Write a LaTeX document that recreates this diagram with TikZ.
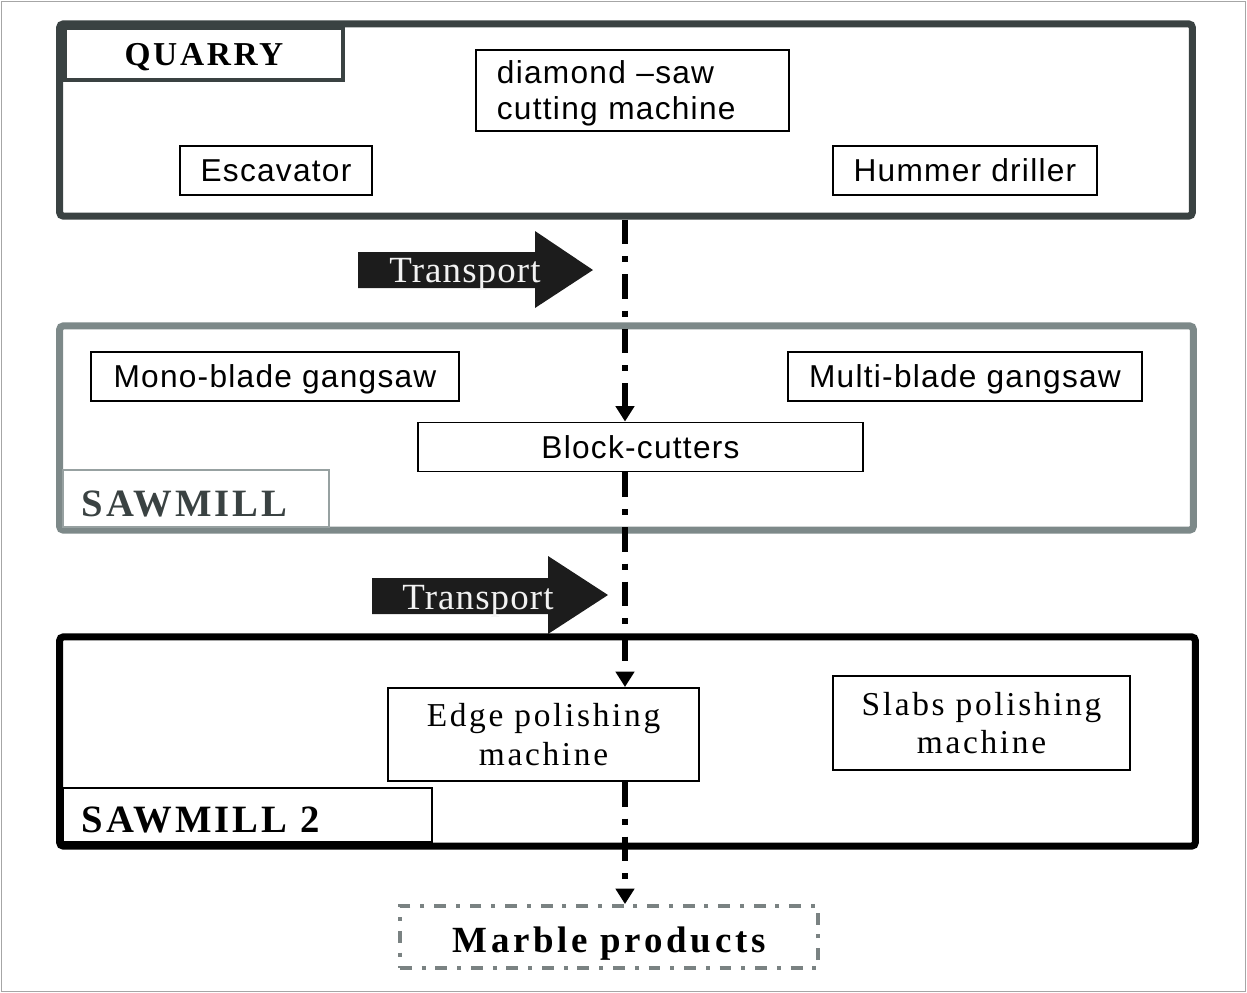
\documentclass[tikz,border=0pt]{standalone}
\usepackage{fontspec}
\setmainfont{Liberation Serif}
\setsansfont{Liberation Sans}
\usetikzlibrary{arrows.meta}
\definecolor{quarrygray}{HTML}{3A4242}
\definecolor{millgray}{HTML}{7D8989}
\definecolor{arrowblack}{HTML}{1C1C1C}
\definecolor{productgray}{HTML}{7A8282}
\tikzset{
  zone/.style={draw, line width=2pt, rounded corners=1pt, inner sep=0pt},
  tag/.style={draw, line width=0.7pt, inner sep=0pt, inner xsep=0.19cm, align=left,
    text height=10pt, text depth=0pt,
    font=\fontsize{11}{13}\selectfont\bfseries\addfontfeature{LetterSpace=8}},
  machine/.style={draw, line width=0.55pt, inner sep=0pt, minimum height=0.49cm, text depth=0pt,
    font=\sffamily\fontsize{9}{10.24}\selectfont\addfontfeature{LetterSpace=4}},
  polisher/.style={draw, line width=0.55pt, inner sep=0pt, align=center, text depth=0pt,
    font=\fontsize{9.5}{10.9}\selectfont\addfontfeature{LetterSpace=8}},
  flow/.style={line width=1.7pt, dash pattern=on 7pt off 3.4pt on 1.7pt off 3.4pt,
    -{Triangle[width=5.2pt,length=4.4pt]}},
  transport/.style={text=white!90!gray, inner sep=0pt, text depth=0pt,
    font=\fontsize{10.5}{12}\selectfont\addfontfeature{LetterSpace=3}}
}
\begin{document}
\begin{tikzpicture}[x=0.01cm, y=-0.01cm]
  \useasboundingbox (0,0) rectangle (1247,993);
  \draw[gray!70, line width=0.4pt] (1.5,1.5) rectangle (1245.5,991.5);
  % quarry
  \node[zone, draw=quarrygray, minimum width=11.32cm, minimum height=1.92cm] (quarry) at (626,120) {};
  \node[tag, draw=quarrygray, line width=0.9pt, align=center, minimum width=2.78cm, minimum height=0.52cm,
    text height=6.6pt, font=\fontsize{9.5}{11}\selectfont\bfseries\addfontfeature{LetterSpace=8}] (quarrytag) at (204,54) {QUARRY};
  \node[machine, text width=2.71cm, align=left, minimum height=0.81cm, inner xsep=0.21cm,
    text height=8pt, text depth=12.1pt] (diamond) at (632.5,90.5)
    {diamond –saw\\cutting machine};
  % sawmill
  \node[zone, draw=millgray, minimum width=11.33cm, minimum height=2.04cm] (sawmill) at (626.5,428) {};
  \node[tag, draw=millgray!80, text=quarrygray, text width=2.28cm, minimum height=0.57cm] (sawmilltag) at (196,498.5) {SAWMILL};
  % sawmill 2
  \node[zone, draw=black, minimum width=11.35cm, minimum height=2.09cm] (sawmilltwo) at (627.5,741.5) {};
  \node[tag, draw=black, text width=3.31cm, minimum height=0.54cm] (sawmilltwotag) at (247.5,815) {SAWMILL 2};
  % machines
  \foreach \nm/\cx/\cy/\w/\txt in {
      escavator/276/170.5/1.92/Escavator,
      driller/965/170.5/2.64/Hummer driller,
      mono/275/376.5/3.68/Mono-blade gangsaw,
      multi/965/376.5/3.54/Multi-blade gangsaw,
      block/640.5/447/4.45/Block-cutters
  } {
      \node[machine, minimum width=\w cm] (\nm) at (\cx,\cy) {\txt};
  }
  \node[polisher, minimum width=3.11cm, minimum height=0.93cm] (edge) at (543.5,734.5) {Edge polishing\\machine};
  \node[polisher, minimum width=2.97cm, minimum height=0.94cm] (slabs) at (981.5,723) {Slabs polishing\\machine};
  \node[draw=productgray, line width=1.1pt, dash pattern=on 3.4pt off 2.8pt on 1.1pt off 2.8pt,
    minimum width=4.18cm, minimum height=0.62cm, inner sep=0pt, text height=9pt, text depth=0pt,
    font=\fontsize{10.5}{12}\selectfont\bfseries\addfontfeature{LetterSpace=10}] (marble) at (609,937) {Marble products};
  % transport arrows
  \fill[arrowblack] (358,252) -- (535,252) -- (535,231) -- (593,270) -- (535,308) -- (535,288) -- (358,288) -- cycle;
  \node[transport] (transportone) at (465,270) {Transport};
  \fill[arrowblack] (372,578) -- (548,578) -- (548,556) -- (608,595) -- (548,634) -- (548,614) -- (372,614) -- cycle;
  \node[transport] (transporttwo) at (478,597) {Transport};
  % flow line
  \coordinate (axis) at (625,0);
  \draw[flow] (quarry.south -| axis) -- (block.north -| axis);
  \draw[flow] (block.south -| axis) -- (edge.north -| axis);
  \draw[flow] (edge.south -| axis) -- (marble.north -| axis);
\end{tikzpicture}
\end{document}
